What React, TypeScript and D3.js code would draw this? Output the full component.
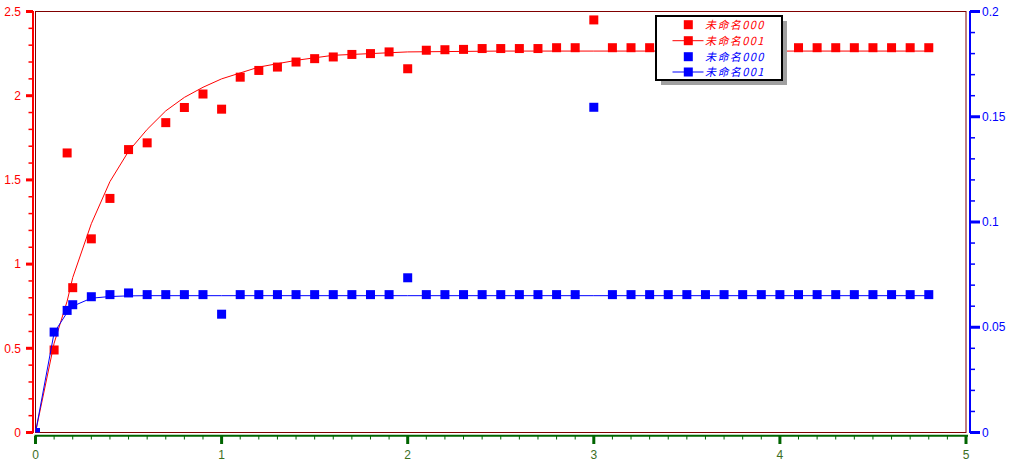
import React from 'react';
import * as d3 from 'd3';

// ---- data ----
const scatterX = [0, 0.1, 0.17, 0.2, 0.3, 0.4, 0.5, 0.6, 0.7, 0.8, 0.9, 1.0, 1.1, 1.2, 1.3, 1.4, 1.5, 1.6, 1.7, 1.8, 1.9, 2.0, 2.1, 2.2, 2.3, 2.4, 2.5, 2.6, 2.7, 2.8, 2.9, 3.0, 3.1, 3.2, 3.3, 3.4, 3.5, 3.6, 3.7, 3.8, 3.9, 4.0, 4.1, 4.2, 4.3, 4.4, 4.5, 4.6, 4.7, 4.8];
const red000 = [0, 0.49, 1.66, 0.86, 1.15, 1.39, 1.68, 1.72, 1.84, 1.93, 2.01, 1.92, 2.11, 2.15, 2.17, 2.2, 2.22, 2.23, 2.245, 2.25, 2.26, 2.16, 2.27, 2.273, 2.275, 2.28, 2.28, 2.28, 2.28, 2.285, 2.285, 2.45, 2.285, 2.285, 2.285, 2.285, 2.285, 2.285, 2.285, 2.285, 2.285, 2.285, 2.285, 2.285, 2.285, 2.285, 2.285, 2.285, 2.285, 2.285];
const blue000 = [0, 0.0477, 0.058, 0.0607, 0.0645, 0.0655, 0.0663, 0.0655, 0.0655, 0.0655, 0.0655, 0.0562, 0.0655, 0.0655, 0.0655, 0.0655, 0.0655, 0.0655, 0.0655, 0.0655, 0.0655, 0.0735, 0.0655, 0.0655, 0.0655, 0.0655, 0.0655, 0.0655, 0.0655, 0.0655, 0.0655, 0.1545, 0.0655, 0.0655, 0.0655, 0.0655, 0.0655, 0.0655, 0.0655, 0.0655, 0.0655, 0.0655, 0.0655, 0.0655, 0.0655, 0.0655, 0.0655, 0.0655, 0.0655, 0.0655];

const redFitX = [0, 0.1, 0.17, 0.2, 0.3, 0.4, 0.5, 0.6, 0.7, 0.8, 0.9, 1.0, 1.2, 1.4, 1.6, 1.8, 2.0, 2.5, 3.0, 3.5, 4.0, 4.5, 4.8];
const red001 = [0, 0.53, 0.78, 0.92, 1.24, 1.49, 1.67, 1.8, 1.91, 1.99, 2.05, 2.1, 2.17, 2.21, 2.24, 2.25, 2.26, 2.265, 2.265, 2.265, 2.265, 2.265, 2.265];

const blueFitX = [0, 0.1, 0.17, 0.2, 0.3, 0.4, 0.5, 0.6, 0.8, 1.0, 2.0, 3.0, 4.0, 4.8];
const blue001 = [0, 0.0474, 0.057, 0.06, 0.0638, 0.0646, 0.0649, 0.065, 0.065, 0.065, 0.065, 0.065, 0.065, 0.065];

const xTicks = [0, 1, 2, 3, 4, 5];
const leftTicks = [0, 0.5, 1, 1.5, 2, 2.5];
const rightTicks = [0, 0.05, 0.1, 0.15, 0.2];
const legendLabels = ['未命名000', '未命名001', '未命名000', '未命名001'];
const legendColors = ['#FF0000', '#FF0000', '#0000FF', '#0000FF'];
const legendHasLine = [false, true, false, true];

const RED = '#FF0000';
const BLUE = '#0000FF';
const GREEN = '#006400';
const FRAME = '#800000';

export default function App() {
  const W = 1009, H = 466;
  const left = 35.5, right = 966, top = 11.5, bottom = 432.5;
  const x = d3.scaleLinear().domain([0, 5]).range([left, right]);
  const yL = d3.scaleLinear().domain([0, 2.5]).range([bottom, top]);
  const yR = d3.scaleLinear().domain([0, 0.2]).range([bottom, top]);

  const xMinor = x.ticks(50).filter(v => Math.abs(v - Math.round(v)) > 1e-6);
  const lMinor = yL.ticks(25).filter(v => Math.abs(v * 2 - Math.round(v * 2)) > 1e-6);
  const rMinor = yR.ticks(20).filter(v => Math.abs(v * 20 - Math.round(v * 20)) > 1e-6);

  const redLine = d3.line<number>().x((_, i) => x(redFitX[i])).y(d => yL(d))(red001) || '';
  const blueLine = d3.line<number>().x((_, i) => x(blueFitX[i])).y(d => yR(d))(blue001) || '';

  const ms = 9;
  const font = '"Liberation Sans", Arial, sans-serif';

  const lgX = 656, lgY = 16, lgW = 126, lgH = 64;
  const rowY = [24.7, 40.7, 56.7, 72];

  return (
    <svg width={W} height={H} style={{ position: 'absolute', left: 0, top: 0, display: 'block', background: '#fff' }}>
      <defs>
        <clipPath id="plotclip">
          <rect x={left} y={top} width={right - left} height={bottom - top} />
        </clipPath>
      </defs>
      <rect x={0} y={0} width={W} height={H} fill="#fff" />

      {/* frame */}
      <rect x={left} y={top} width={right - left} height={bottom - top} fill="none" stroke={FRAME} strokeWidth={1} />

      {/* data */}
      <g clipPath="url(#plotclip)">
        {red000.map((v, i) => (
          <rect key={'r' + i} x={x(scatterX[i]) - ms / 2} y={yL(v) - ms / 2} width={ms} height={ms} fill={RED} />
        ))}
        <path d={redLine} fill="none" stroke={RED} strokeWidth={1} />
        {blue000.map((v, i) => (
          <rect key={'b' + i} x={x(scatterX[i]) - ms / 2} y={yR(v) - ms / 2} width={ms} height={ms} fill={BLUE} />
        ))}
        <path d={blueLine} fill="none" stroke={BLUE} strokeWidth={1} />
      </g>

      {/* left axis */}
      <line x1={33} x2={33} y1={top - 0.5} y2={bottom + 0.5} stroke={RED} strokeWidth={2} />
      {lMinor.map(v => (
        <line key={'lm' + v} x1={28.5} x2={33} y1={yL(v)} y2={yL(v)} stroke={RED} strokeWidth={1.5} />
      ))}
      {leftTicks.map(v => (
        <g key={'lt' + v}>
          <line x1={26} x2={33} y1={yL(v)} y2={yL(v)} stroke={RED} strokeWidth={3} />
          <text x={21} y={yL(v)} dy="0.35em" textAnchor="end" fill={RED} fontFamily={font} fontSize={12}>{v}</text>
        </g>
      ))}

      {/* right axis */}
      <line x1={970} x2={970} y1={top - 0.5} y2={bottom + 0.5} stroke={BLUE} strokeWidth={2} />
      {rMinor.map(v => (
        <line key={'rm' + v} x1={970} x2={975} y1={yR(v)} y2={yR(v)} stroke={BLUE} strokeWidth={1.5} />
      ))}
      {rightTicks.map(v => (
        <g key={'rt' + v}>
          <line x1={970} x2={980} y1={yR(v)} y2={yR(v)} stroke={BLUE} strokeWidth={3} />
          <text x={982} y={yR(v)} dy="0.35em" textAnchor="start" fill={BLUE} fontFamily={font} fontSize={12}>{v}</text>
        </g>
      ))}

      {/* bottom axis */}
      <line x1={left - 1} x2={right + 2} y1={435.7} y2={435.7} stroke={GREEN} strokeWidth={2} />
      {xMinor.map(v => (
        <line key={'xm' + v} x1={x(v)} x2={x(v)} y1={436} y2={439.5} stroke={GREEN} strokeWidth={1} />
      ))}
      {xTicks.map(v => (
        <g key={'xt' + v}>
          <line x1={x(v)} x2={x(v)} y1={436} y2={444} stroke={GREEN} strokeWidth={3} />
          <text x={x(v)} y={459} textAnchor="middle" fill="#3C6E1E" fontFamily={font} fontSize={12}>{v}</text>
        </g>
      ))}

      {/* legend */}
      <rect x={lgX + 5} y={lgY + 5} width={lgW} height={lgH} fill="#A0A0A0" />
      <rect x={lgX} y={lgY} width={lgW} height={lgH} fill="#fff" stroke="#000" strokeWidth={2} />
      {legendLabels.map((lab, i) => (
        <g key={'lg' + i}>
          {legendHasLine[i] && (
            <line x1={672.5} x2={703.5} y1={rowY[i]} y2={rowY[i]} stroke={legendColors[i]} strokeWidth={1} />
          )}
          <rect x={688.3 - ms / 2} y={rowY[i] - ms / 2} width={ms} height={ms} fill={legendColors[i]} />
          <text x={705} y={rowY[i]} dy="0.36em" fill={legendColors[i]} fontFamily='"Noto Sans CJK SC", sans-serif' fontStyle="italic" fontSize={11} letterSpacing={1.4}>{lab}</text>
        </g>
      ))}
    </svg>
  );
}
